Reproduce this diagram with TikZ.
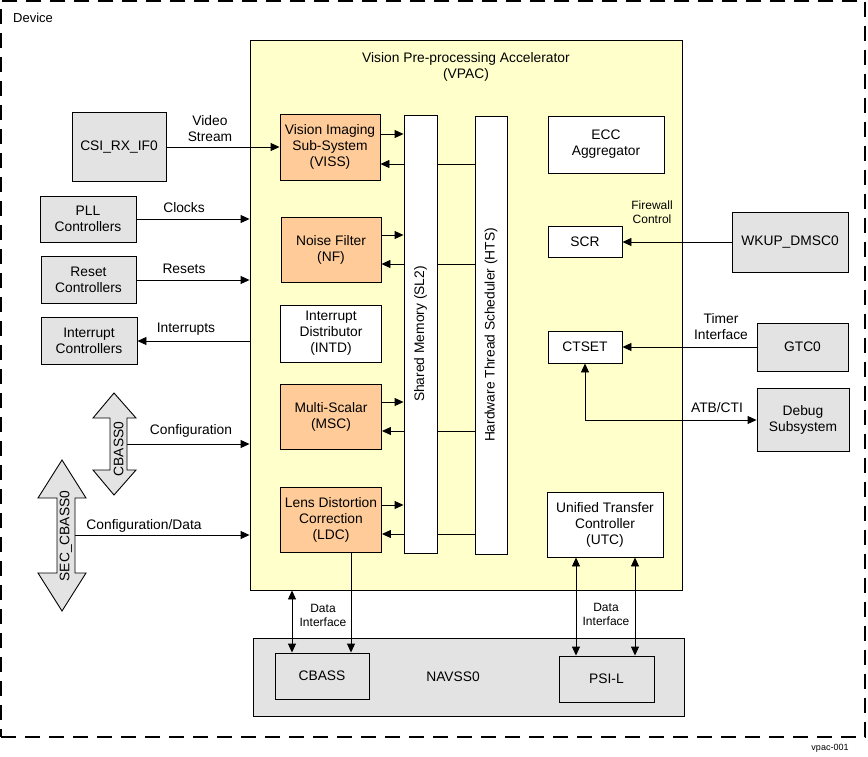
\documentclass[tikz,border=0pt]{standalone}
\usepackage{fontspec}
\setmainfont{Liberation Sans}
\usetikzlibrary{arrows.meta}
\definecolor{vpacyel}{HTML}{FFFFCC}
\definecolor{orangec}{HTML}{FFCC99}
\definecolor{greyc}{HTML}{E3E3E3}
\pgfdeclarelayer{bg}
\pgfdeclarelayer{mid}
\pgfsetlayers{bg,mid,main}
\begin{document}
\begin{tikzpicture}[x=1pt,y=-1pt,
  fs/.style={font=\fontsize{13.8}{16}\selectfont},
  sfs/.style={font=\fontsize{12}{14}\selectfont},
  box/.style={draw, line width=0.9pt, align=center, inner sep=1pt, fs},
  sz/.style 2 args={minimum width=#1pt, minimum height=#2pt},
  grey/.style={box, fill=greyc},
  orng/.style={box, fill=orangec},
  wht/.style={box, fill=white},
  lbl/.style={align=center, inner sep=0pt, fs},
  slbl/.style={align=center, inner sep=0pt, sfs},
  conn/.style={line width=0.9pt},
  toarr/.style={conn, -{Triangle[length=9pt,width=8pt]}},
  dblarr/.style={conn, {Triangle[length=9pt,width=8pt]}-{Triangle[length=9pt,width=8pt]}},
  dblshape/.style={line width=0.9pt, fill=greyc}
]
\useasboundingbox (0,0) rectangle (868,756);

\begin{pgfonlayer}{bg}
\node[draw, line width=1.2pt, dash pattern=on 15pt off 9pt, sz={864}{736}, inner sep=0pt] (device) at (433,369) {};
\node[box, fill=vpacyel, sz={432}{550}] (vpac) at (466,315) {};
\node[box, fill=greyc, sz={431}{78}] (navss) at (468.5,677) {};
\end{pgfonlayer}

% labels
\node[lbl, anchor=west, font=\fontsize{13}{16}\selectfont] (devlbl) at (13,18) {Device};
\node[lbl] (vpaclbl) at (466,66.5) {Vision Pre-processing Accelerator\\(VPAC)};
\node[lbl] (navlbl) at (453,677) {NAVSS0};
\node[font=\fontsize{9}{10}\selectfont, inner sep=0pt] (figid) at (830,748) {vpac-001};

% outside blocks
\node[grey, sz={94}{69}] (csi) at (119,147) {CSI\_RX\_IF0};
\node[grey, sz={96}{46}] (pll) at (88,219) {PLL\\Controllers};
\node[grey, sz={95}{47}] (reset) at (88.5,280) {Reset\\Controllers};
\node[grey, sz={96}{47}] (intc) at (89,341) {Interrupt\\Controllers};
\node[grey, sz={116}{60}] (wkup) at (790,242) {WKUP\_DMSC0};
\node[grey, sz={91}{48}] (gtc) at (802.5,347) {GTC0};
\node[grey, sz={92}{63}] (debug) at (803,420) {Debug\\Subsystem};
\node[grey, sz={94}{46}] (cbass) at (322,676) {CBASS};
\node[grey, sz={95}{46}] (psil) at (606.5,679) {PSI-L};

% double arrows CBASS0 / SEC_CBASS0
\draw[dblshape] (114,393) -- (136,418) -- (127,418) -- (127,470) -- (136,470) -- (114,495)
  -- (93,470) -- (110,470) -- (110,418) -- (93,418) -- cycle;
\node[lbl, minimum width=17pt] (cb0) at (118.5,449) {\rotatebox{90}{CBASS0}};
\draw[dblshape] (62,460) -- (86,498) -- (75,498) -- (75,573) -- (86,573) -- (62,611)
  -- (38,573) -- (57,573) -- (57,498) -- (38,498) -- cycle;
\node[lbl, minimum width=18pt] (seccb) at (66,536) {\rotatebox{90}{SEC\_CBASS0}};

% VPAC internals
\node[orng, sz={100}{66}] (viss) at (330,147) {Vision Imaging\\Sub-System\\(VISS)};
\node[orng, sz={100}{65}] (nf) at (331,249.5) {Noise Filter\\(NF)};
\node[wht, sz={101}{57}] (intd) at (331,333.5) {Interrupt\\Distributor\\(INTD)};
\node[orng, sz={101}{65}] (msc) at (331,416.5) {Multi-Scalar\\(MSC)};
\node[orng, sz={101}{65}] (ldc) at (331,519.5) {Lens Distortion\\Correction\\(LDC)};
\node[wht, sz={33}{438}] (sl2) at (420.5,334) {\rotatebox{90}{Shared Memory (SL2)}};
\node[wht, sz={32}{438}] (hts) at (491,335) {\rotatebox{90}{Hardware Thread Scheduler (HTS)}};
\node[wht, sz={116}{57}] (ecc) at (606,144.5) {ECC\\Aggregator};
\node[wht, sz={74}{31}] (scr) at (585,242) {SCR};
\node[wht, sz={74}{32}] (ctset) at (585,347) {CTSET};
\node[wht, sz={116}{65}] (utc) at (605,524.5) {Unified Transfer\\Controller\\(UTC)};

% connectors
\begin{pgfonlayer}{mid}
\draw[toarr] (csi.east) -- (viss.west);
\draw[toarr] (pll.east) -- (pll.east -| vpac.west);
\draw[toarr] (reset.east) -- (reset.east -| vpac.west);
\draw[toarr] (intc.east -| vpac.west) -- (intc.east);
\draw[toarr] (cb0.east |- 0,444) -- (vpac.west |- 0,444);
\draw[toarr] (seccb.east |- 0,535) -- (vpac.west |- 0,535);

\draw[toarr] (viss.east |- 0,134) -- (sl2.west |- 0,134);
\draw[toarr] (hts.west |- 0,164) -- (viss.east |- 0,164);
\draw[toarr] (nf.east |- 0,235) -- (sl2.west |- 0,235);
\draw[toarr] (hts.west |- 0,264) -- (nf.east |- 0,264);
\draw[toarr] (msc.east |- 0,402) -- (sl2.west |- 0,402);
\draw[toarr] (hts.west |- 0,431) -- (msc.east |- 0,431);
\draw[toarr] (ldc.east |- 0,505) -- (sl2.west |- 0,505);
\draw[toarr] (hts.west |- 0,534) -- (ldc.east |- 0,534);

\draw[toarr] (wkup.west) -- (wkup.west -| scr.east);
\draw[toarr] (gtc.west) -- (gtc.west -| ctset.east);
\draw[dblarr] (ctset.south) |- (debug.west);

\draw[toarr] (ldc.south -| 351,0) -- (cbass.north -| 351,0);
\draw[dblarr] (vpac.south -| 292,0) -- (cbass.north -| 292,0);
\draw[dblarr] (utc.south -| 576,0) -- (psil.north -| 576,0);
\draw[dblarr] (utc.south -| 635,0) -- (psil.north -| 635,0);
\end{pgfonlayer}

% connector labels
\node[lbl] (vidlbl) at (210,129) {Video\\Stream};
\node[lbl] (clklbl) at (184,208) {Clocks};
\node[lbl] (rstlbl) at (184,269) {Resets};
\node[lbl] (irqlbl) at (186,329) {Interrupts};
\node[lbl] (cfglbl) at (191,431) {Configuration};
\node[lbl] (cfgdlbl) at (144,526) {Configuration/Data};
\node[slbl] (fwlbl) at (652,212) {Firewall\\Control};
\node[lbl] (tmrlbl) at (721,327) {Timer\\Interface};
\node[lbl] (atblbl) at (717,408) {ATB/CTI};
\node[slbl] (dil) at (323,615) {Data\\Interface};
\node[slbl] (dir) at (606,614) {Data\\Interface};
\end{tikzpicture}
\end{document}
